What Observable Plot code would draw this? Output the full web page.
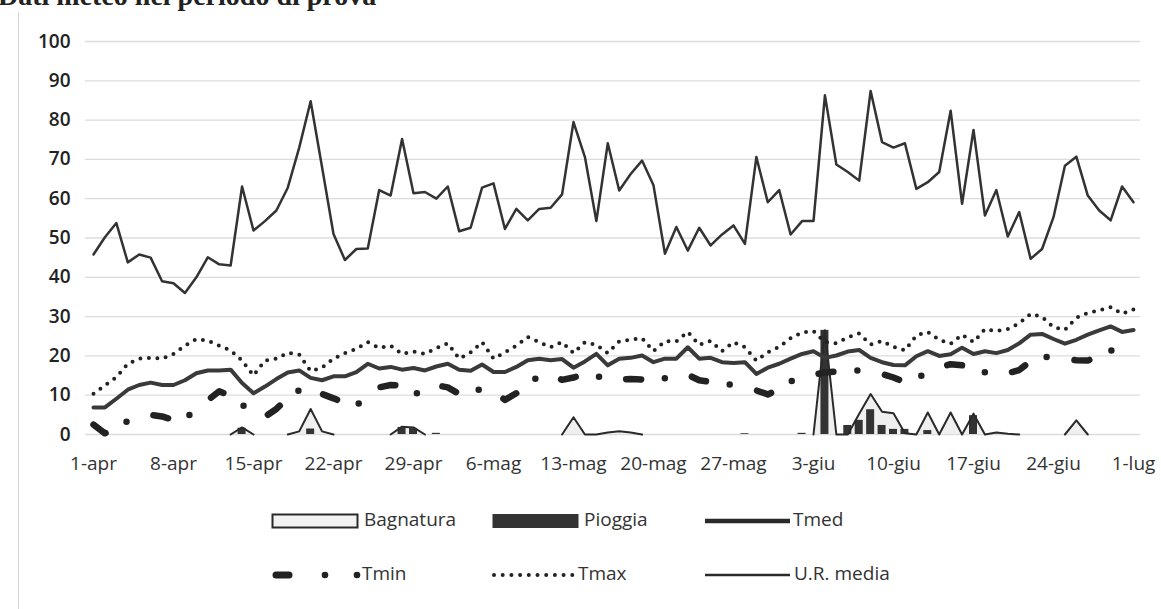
<!DOCTYPE html>
<html><head><meta charset="utf-8">
<script src="https://cdn.jsdelivr.net/npm/d3@7"></script>
<script src="https://cdn.jsdelivr.net/npm/@observablehq/plot@0.6"></script>
<style>
body{margin:0;background:#fff;width:1161px;height:609px;overflow:hidden;position:relative;font-family:"Open Sans",sans-serif;}
#title{position:absolute;left:-2px;top:-20px;font:bold 28px "Liberation Serif",serif;color:#222;white-space:nowrap;}
#frame{position:absolute;left:18px;top:12px;width:1px;height:600px;background:#d4d4d4;}
#chart{position:absolute;left:0;top:0;}
.lt{position:absolute;font-size:19px;color:#333;line-height:1;white-space:nowrap;}
.ls{position:absolute;}
</style></head><body>
<div id="title">Dati meteo nel periodo di prova</div>
<div id="frame"></div>
<div id="chart"></div>
<div id="legend"></div>
<script>
// categories: days from 1-apr to 1-lug
const mesi = [["apr",30],["mag",31],["giu",30],["lug",1]];
const giorni = [];
for (const [m, n] of mesi) for (let d = 1; d <= n; d++) giorni.push(d + "-" + m);
const tickIdx = [0,7,14,21,28,35,42,49,56,63,70,77,84,91];
const yTicks = [0,10,20,30,40,50,60,70,80,90,100];

const UR = [45.8,50.2,53.8,43.8,45.8,45,39,38.5,36,40,
45.1,43.3,43,63.1,51.9,54.3,57,62.8,73,84.8,
68,51,44.4,47.2,47.3,62.2,60.8,75.2,61.4,61.7,
60,63.1,51.7,52.6,62.8,63.9,52.3,57.4,54.5,57.4,
57.7,61.1,79.5,70.6,54.3,74.1,62.1,66.3,69.7,63.4,
46,52.8,46.8,52.6,48.1,50.9,53.2,48.5,70.6,59.1,
62.2,50.9,54.3,54.3,86.3,68.7,66.8,64.6,87.4,74.4,
73,74.1,62.5,64.2,66.8,82.4,58.7,77.5,55.7,62.2,
50.4,56.6,44.7,47.2,55.3,68.4,70.7,60.8,57,54.5,
63.1,59.1];

const Tmax = [10.4,12.5,14.6,18,19.3,19.5,19.3,20.5,22.6,24.3,
23.9,22.6,21.4,18.8,15,18.8,19.3,20.8,20.3,16.1,
17,19.3,20.7,21.8,23.5,22,22.6,20.5,21.1,20.5,
22,23.2,19.3,20.9,23.5,19.3,20.9,22.6,24.8,23.5,
22.2,23.5,20.7,23.5,22.8,20.7,23.7,24.1,24.5,21.2,
23.7,23.7,26.1,22.8,23.8,21.2,23.5,22.2,18.8,20.9,
22.3,24.5,26,26.3,23.5,23.2,24.7,25.7,22.9,23.8,
22.3,21.4,25.2,26.1,24.1,23.1,25.4,23.5,26.8,26.3,
26.8,28.3,30.7,29.9,27.3,26.6,29.7,30.9,31.6,32.4,
30.7,31.8];

const Tmed = [6.9,6.9,9.1,11.4,12.6,13.2,12.6,12.6,13.8,15.6,
16.3,16.3,16.5,13.1,10.5,12.2,14.1,15.8,16.3,14.4,
13.8,14.8,14.8,15.9,18,16.8,17.2,16.5,16.9,16.3,
17.3,18,16.5,16.2,17.8,15.9,15.9,17.2,18.9,19.3,
18.9,19.2,17,18.6,20.5,17.6,19.3,19.5,20.1,18.4,
19.3,19.3,22.2,19.3,19.5,18.4,18.2,18.4,15.4,17,
18,19.3,20.5,21.2,19.5,20.1,21.1,21.5,19.5,18.4,
17.7,17.6,19.9,21.2,20,20.4,22.1,20.5,21.2,20.7,
21.5,23.2,25.4,25.6,24.3,23.1,24.1,25.4,26.5,27.5,
26.1,26.6];

const Tmin = [2.5,0.3,1.5,3.5,4.2,5,4.6,3.7,3.6,7,
8.7,11,9.8,7.6,5.5,4.5,6.5,9.3,11.3,12.3,
10.3,9.2,8,7.2,10.6,12,12.6,12.5,10.5,10.5,
12.5,12,10.3,10.5,11.8,11,8.8,10.5,12.5,15,
15.2,13.9,14.5,15.3,15,13.7,14,14.1,14,13.7,
14.3,15.2,15.2,13.8,13.4,13.1,12.5,11.9,11.2,10.2,
11.5,13.5,14.8,15.2,15.8,16,16.2,16.3,16,15.4,
14.5,13.3,14.5,15.6,17,17.9,17.6,17,15.8,15,
15.6,16.4,18.7,19.9,19.5,19.2,18.9,18.8,20,21.3,
22,22];

const Bagnatura = [0,0,0,0,0,0,0,0,0,0,
0,0,0,1.8,0,0,0,0,0.8,6.5,
0.8,0,0,0,0,0,0,2.0,1.8,0,
0,0,0,0,0,0,0,0,0,0,
0,0,4.4,0,0,0.5,0.8,0.5,0,0,
0,0,0,0,0,0,0,0,0,0,
0,0,0,0,26.5,0,0,5.3,10.3,5.8,
5.4,0.3,0,5.6,0,5.6,0,5.3,0,0.5,
0.2,0,0,0,0,0,3.6,0,0,0,
0,0];

const Pioggia = [0,0,0,0,0,0,0,0,0,0,
0,0,0,1.6,0,0,0,0,0,1.4,
0,0,0,0,0,0,0,1.8,1.5,0,
0.3,0,0,0,0,0,0,0,0,0,
0,0,0,0,0,0,0,0,0,0,
0,0,0,0,0,0,0,0.2,0,0,
0,0,0.3,0,26.5,0,2.3,3.6,6.3,2.3,
1.3,1.3,0,1.0,0,0,0,4.8,0,0,
0,0,0,0,0,0,0,0,0,0,
0,0];

const data = giorni.map((g, i) => ({
  i, g, ur: UR[i], tmax: Tmax[i], tmed: Tmed[i], tmin: Tmin[i],
  bag: Bagnatura[i], pio: Pioggia[i],
  bagLine: (Bagnatura[i] > 0 || (Bagnatura[i-1] || 0) > 0 || (Bagnatura[i+1] || 0) > 0) ? Bagnatura[i] : NaN
}));

const chart = Plot.plot({
  width: 1161, height: 480,
  marginLeft: 93, marginRight: 28, marginTop: 41, marginBottom: 46,
  x: {type: "linear", domain: [0, 91], label: null},
  y: {domain: [0, 100], label: null},
  style: {fontFamily: "Open Sans", fontSize: "19px", color: "#333", background: "transparent", overflow: "visible"},
  marks: [
    Plot.ruleY(yTicks, {x1: () => -0.7, x2: () => 91.6, stroke: "#dcdcdc", strokeWidth: 1.3}),
    Plot.areaY(data, {x: "i", y: "bag", fill: "#efefef"}),
    Plot.rectY(data.filter(d => d.pio > 0), {x1: d => d.i - 0.35, x2: d => d.i + 0.35, y: "pio", fill: "#333"}),
    Plot.lineY(data, {x: "i", y: "bagLine", stroke: "#2a2a2a", strokeWidth: 2}),
    Plot.lineY(data, {x: "i", y: "ur", stroke: "#333", strokeWidth: 2.5}),
    Plot.lineY(data, {x: "i", y: "tmax", stroke: "#222", strokeWidth: 4, strokeDasharray: "0 8.5", strokeLinecap: "round"}),
    Plot.lineY(data, {x: "i", y: "tmed", stroke: "#3a3a3a", strokeWidth: 4}),
    Plot.lineY(data, {x: "i", y: "tmin", stroke: "#222", strokeWidth: 6.5, strokeDasharray: "15 24 0 28", strokeLinecap: "round"}),
    Plot.axisY({ticks: yTicks, tickSize: 0, tickPadding: 23, fontWeight: 600, fill: "#222", label: null}),
    Plot.axisX({ticks: tickIdx, tickFormat: i => giorni[i], tickSize: 0, tickPadding: 22, fill: "#333", label: null})
  ]
});
document.getElementById("chart").appendChild(chart);

// legend
const legend = document.getElementById("legend");
const r1 = 521, r2 = 575;
function sym(left, cy, w, inner) {
  const s = `<svg class="ls" style="left:${left}px;top:${cy-9}px" width="${w}" height="18" viewBox="0 0 ${w} 18">${inner}</svg>`;
  legend.insertAdjacentHTML("beforeend", s);
}
function txt(left, cy, t) {
  legend.insertAdjacentHTML("beforeend", `<div class="lt" style="left:${left}px;top:${cy-11}px">${t}</div>`);
}
sym(271, r1, 90, `<rect x="1.5" y="2.5" width="85" height="13" fill="#f2f2f2" stroke="#2a2a2a" stroke-width="2"/>`);
txt(364, r1, "Bagnatura");
sym(492, r1, 90, `<rect x="0.5" y="2" width="86" height="14" fill="#333"/>`);
txt(584, r1, "Pioggia");
sym(705, r1, 90, `<line x1="0" y1="9" x2="85" y2="9" stroke="#2a2a2a" stroke-width="4.5"/>`);
txt(793, r1, "Tmed");
sym(270, r2, 92, `<line x1="6" y1="9" x2="19" y2="9" stroke="#222" stroke-width="7" stroke-linecap="round"/><circle cx="55" cy="9" r="3.3" fill="#222"/><circle cx="87" cy="9" r="3.3" fill="#222"/>`);
txt(362, r2, "Tmin");
sym(491, r2, 86, `<line x1="3" y1="9" x2="82" y2="9" stroke="#222" stroke-width="4" stroke-dasharray="0 8.7" stroke-linecap="round"/>`);
txt(578, r2, "Tmax");
sym(705, r2, 90, `<line x1="0" y1="9" x2="85" y2="9" stroke="#2a2a2a" stroke-width="2.5"/>`);
txt(794, r2, "U.R. media");
</script>
</body></html>
